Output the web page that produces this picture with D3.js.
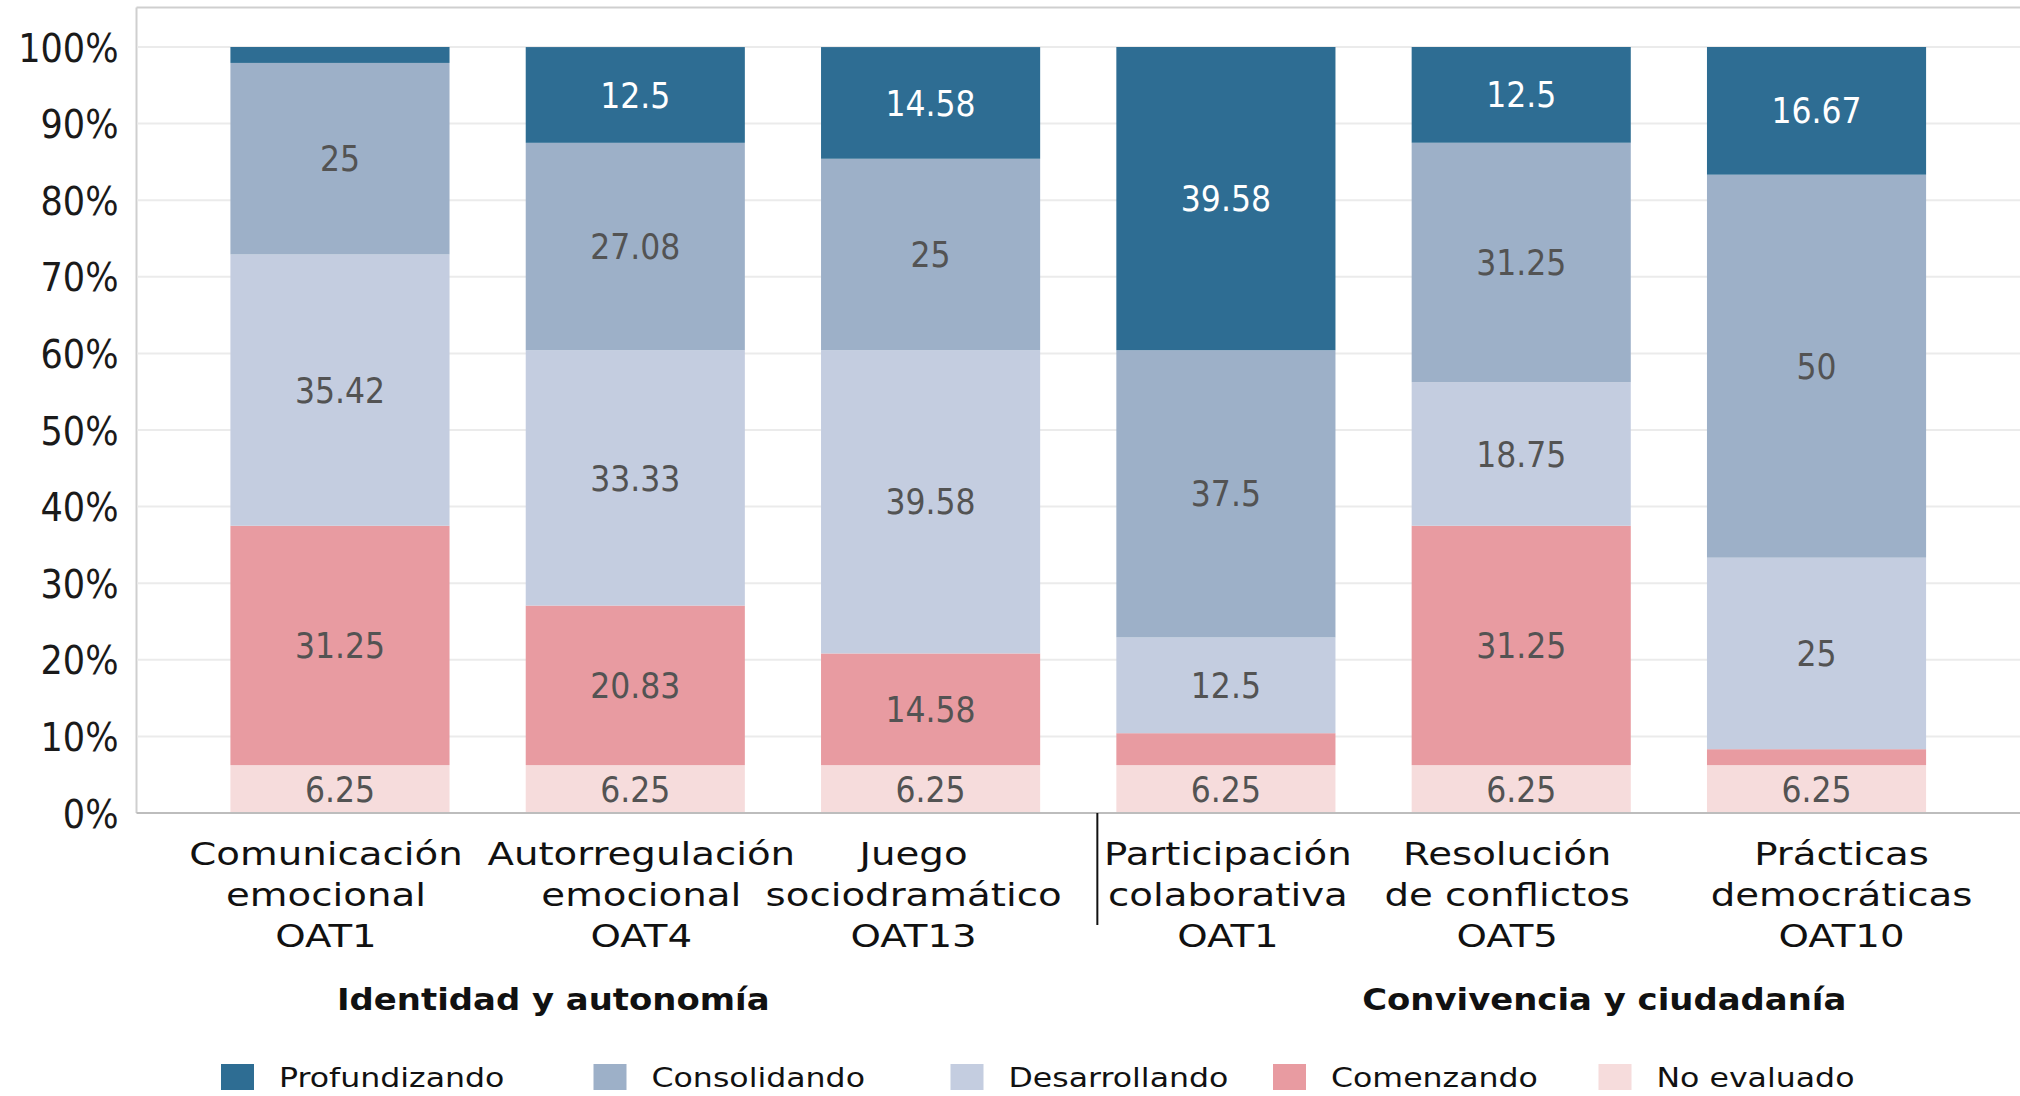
<!DOCTYPE html>
<html>
<head>
<meta charset="utf-8">
<script src="https://cdn.jsdelivr.net/npm/d3@7"></script>
<style>
  html, body { margin: 0; padding: 0; background: #fff; }
  svg { display: block; }
</style>
</head>
<body>
<div id="chart"></div>
<script>
// categories (one entry per bar, lines of the label)
const categories = [
  "Comunicación\nemocional\nOAT1",
  "Autorregulación\nemocional\nOAT4",
  "Juego\nsociodramático\nOAT13",
  "Participación\ncolaborativa\nOAT1",
  "Resolución\nde conflictos\nOAT5",
  "Prácticas\ndemocráticas\nOAT10"
];
const groups = ["Identidad y autonomía", "Convivencia y ciudadanía"];

// series, bottom to top
const seriesNames = ["No evaluado", "Comenzando", "Desarrollando", "Consolidando", "Profundizando"];
const noEvaluado = [6.25, 6.25, 6.25, 6.25, 6.25, 6.25];
const comenzando = [31.25, 20.83, 14.58, 4.17, 31.25, 2.08];
const desarrollando = [35.42, 33.33, 39.58, 12.5, 18.75, 25];
const consolidando = [25, 27.08, 25, 37.5, 31.25, 50];
const profundizando = [2.08, 12.5, 14.58, 39.58, 12.5, 16.67];

const yTicks = [0, 10, 20, 30, 40, 50, 60, 70, 80, 90, 100];
const legendOrder = ["Profundizando", "Consolidando", "Desarrollando", "Comenzando", "No evaluado"];

const colors = {
  "Profundizando": "#2e6d93",
  "Consolidando": "#9db0c8",
  "Desarrollando": "#c4cde0",
  "Comenzando": "#e89ba1",
  "No evaluado": "#f6dcdc"
};

const W = 2020, H = 1096;
const plot = { left: 136.5, top: 7.5, right: 2020, bottom: 813, top100: 47 };
// small horizontal nudges of the category labels, as in the original layout
const labelShift = [-14, 6, -17, 2, -14, 25];

const numFont = "'DejaVu Sans Condensed', 'DejaVu Sans', sans-serif";
const txtFont = "'DejaVu Sans', sans-serif";

const rows = categories.map((c, i) => ({
  cat: c,
  "No evaluado": noEvaluado[i],
  "Comenzando": comenzando[i],
  "Desarrollando": desarrollando[i],
  "Consolidando": consolidando[i],
  "Profundizando": profundizando[i]
}));

const stacked = d3.stack().keys(seriesNames)(rows);

const svg = d3.select("#chart")
  .append("svg")
  .attr("width", W)
  .attr("height", H);

svg.append("rect").attr("width", W).attr("height", H).attr("fill", "#fff");

const x = d3.scaleBand()
  .domain(categories)
  .range([plot.left, plot.right])
  .paddingInner(0.258)
  .paddingOuter(0.318);

const y = d3.scaleLinear()
  .domain([0, 100])
  .range([plot.bottom, plot.top100]);

// frame (top + left)
svg.append("line")
  .attr("x1", plot.left).attr("x2", W)
  .attr("y1", plot.top).attr("y2", plot.top)
  .attr("stroke", "#cfcfcf").attr("stroke-width", 2);
svg.append("line")
  .attr("x1", plot.left).attr("x2", plot.left)
  .attr("y1", plot.top).attr("y2", plot.bottom)
  .attr("stroke", "#cfcfcf").attr("stroke-width", 2);

// gridlines
svg.append("g")
  .selectAll("line")
  .data(yTicks.filter((t) => t > 0))
  .join("line")
  .attr("x1", plot.left + 1).attr("x2", W)
  .attr("y1", (d) => y(d)).attr("y2", (d) => y(d))
  .attr("stroke", "#ebebeb").attr("stroke-width", 2);

// y axis labels
const yAxis = svg.append("g")
  .attr("transform", `translate(${plot.left - 18}, 0)`)
  .call(d3.axisLeft(y).tickValues(yTicks).tickSize(0).tickPadding(0).tickFormat((d) => d + "%"));
yAxis.select(".domain").remove();
yAxis.selectAll("text")
  .attr("font-family", numFont)
  .attr("font-size", 39)
  .attr("fill", "#1a1a1a")
  .attr("dy", "0.36em");

// bars
const layer = svg.append("g")
  .selectAll("g")
  .data(stacked)
  .join("g")
  .attr("fill", (d) => colors[d.key]);

layer.selectAll("rect")
  .data((d) => d)
  .join("rect")
  .attr("x", (d) => x(d.data.cat))
  .attr("y", (d) => y(d[1]))
  .attr("width", x.bandwidth())
  .attr("height", (d) => y(d[0]) - y(d[1]));

// value labels
const labels = svg.append("g");
stacked.forEach((s) => {
  labels.selectAll(null)
    .data(s.filter((d) => d[1] - d[0] >= 5))
    .join("text")
    .attr("x", (d) => x(d.data.cat) + x.bandwidth() / 2)
    .attr("y", (d) => y((d[0] + d[1]) / 2))
    .attr("dy", "0.36em")
    .attr("text-anchor", "middle")
    .attr("font-family", numFont)
    .attr("font-size", 35)
    .attr("fill", s.key === "Profundizando" ? "#ffffff" : "#535353")
    .text((d) => d.data[s.key]);
});

// bottom axis line
svg.append("line")
  .attr("x1", plot.left).attr("x2", W)
  .attr("y1", plot.bottom).attr("y2", plot.bottom)
  .attr("stroke", "#bdbdbd").attr("stroke-width", 2);

// separator between groups
const sepX = x(categories[3]) - 19;
svg.append("line")
  .attr("x1", sepX).attr("x2", sepX)
  .attr("y1", plot.bottom).attr("y2", 925)
  .attr("stroke", "#111").attr("stroke-width", 2);

// category labels
const catLabels = svg.append("g")
  .selectAll("g")
  .data(categories)
  .join("g")
  .attr("transform", (d, i) => `translate(${x(d) + x.bandwidth() / 2 + labelShift[i]}, 865) scale(1.21, 1)`);

catLabels.selectAll("text")
  .data((d) => d.split("\n"))
  .join("text")
  .attr("x", 0)
  .attr("y", (d, i) => i * 41)
  .attr("text-anchor", "middle")
  .attr("font-family", txtFont)
  .attr("font-size", 32)
  .attr("fill", "#111")
  .text((d) => d);

// group labels
const groupCenters = [
  (x(categories[0]) + x(categories[2]) + x.bandwidth()) / 2 - 82,
  (x(categories[3]) + x(categories[5]) + x.bandwidth()) / 2 + 83
];
svg.append("g")
  .selectAll("text")
  .data(groups)
  .join("text")
  .attr("transform", (d, i) => `translate(${groupCenters[i]}, 1010) scale(1.13, 1)`)
  .attr("text-anchor", "middle")
  .attr("font-family", txtFont)
  .attr("font-weight", "bold")
  .attr("font-size", 30)
  .attr("fill", "#111")
  .text((d) => d);

// legend
const legendX = [221, 593.5, 950.5, 1273, 1598.5];
const legend = svg.append("g")
  .selectAll("g")
  .data(legendOrder)
  .join("g")
  .attr("transform", (d, i) => `translate(${legendX[i]}, 1064)`);

legend.append("rect")
  .attr("width", 33)
  .attr("height", 26)
  .attr("fill", (d) => colors[d]);

legend.append("text")
  .attr("transform", "translate(58, 23) scale(1.17, 1)")
  .attr("font-family", txtFont)
  .attr("font-size", 27)
  .attr("fill", "#111")
  .text((d) => d);
</script>
</body>
</html>
